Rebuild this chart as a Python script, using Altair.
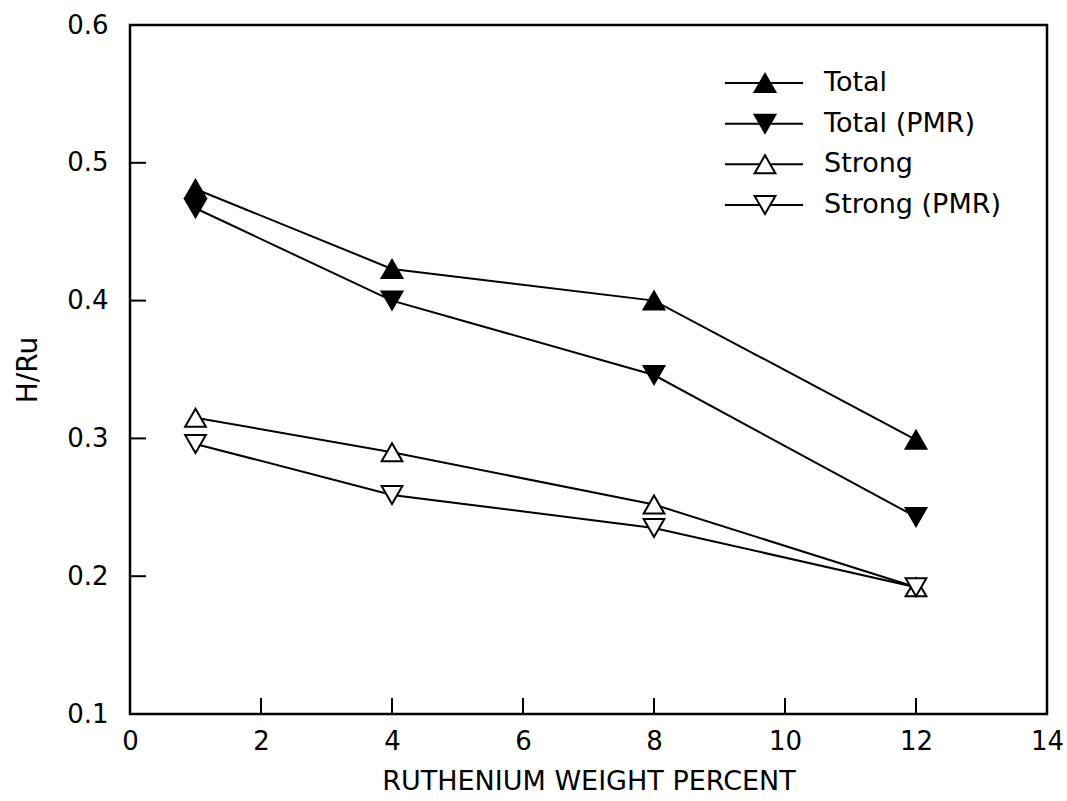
import altair as alt
import pandas as pd

# Ruthenium loading (wt %) and H/Ru uptake for each measurement series
wt_percent = [1, 4, 8, 12]
series_names = ["Total", "Total (PMR)", "Strong", "Strong (PMR)"]
total = [0.481, 0.423, 0.400, 0.299]
total_pmr = [0.467, 0.400, 0.346, 0.243]
strong = [0.315, 0.290, 0.252, 0.192]
strong_pmr = [0.296, 0.259, 0.235, 0.192]

x_tick_values = [0, 2, 4, 6, 8, 10, 12, 14]
y_tick_values = [0.1, 0.2, 0.3, 0.4, 0.5, 0.6]
x_inner_ticks = [2, 4, 6, 8, 10, 12]
y_inner_ticks = [0.2, 0.3, 0.4, 0.5]

W, H = 917, 689
FONT = "DejaVu Sans"
TICK_LEN = 16

rows = []
for name, vals in zip(series_names, [total, total_pmr, strong, strong_pmr]):
    for x, v in zip(wt_percent, vals):
        rows.append({"series": name, "wt": x, "hru": v})
df = pd.DataFrame(rows)

xs = alt.Scale(domain=[0, 14], nice=False, zero=False)
ys = alt.Scale(domain=[0.1, 0.6], nice=False, zero=False)
shape_scale = alt.Scale(domain=series_names,
                        range=["triangle-up", "triangle-down", "triangle-up", "triangle-down"])
fill_scale = alt.Scale(domain=series_names, range=["black", "black", "white", "white"])

x_axis = alt.Axis(values=x_tick_values, format="d", ticks=False, domain=False, grid=False,
                  labelFlush=False, labelFont=FONT, labelFontSize=26, labelColor="black",
                  labelPadding=14, title="RUTHENIUM  WEIGHT  PERCENT", titleFont=FONT,
                  titleFontSize=27, titleFontWeight="normal", titleColor="black",
                  titlePadding=14)
y_axis = alt.Axis(values=y_tick_values, format=".1f", ticks=False, domain=False, grid=False,
                  labelFont=FONT, labelFontSize=26, labelColor="black", labelPadding=22,
                  title="H/Ru", titleFont=FONT, titleFontSize=28, titleFontWeight="normal",
                  titleColor="black", titlePadding=24)

base = alt.Chart(df)

lines = base.mark_line(color="black", strokeWidth=2).encode(
    x=alt.X("wt:Q", scale=xs, axis=x_axis),
    y=alt.Y("hru:Q", scale=ys, axis=y_axis),
    detail="series:N",
)

points = base.mark_point(filled=True, size=430, stroke="black", strokeWidth=2,
                         opacity=1, fillOpacity=1).encode(
    x=alt.X("wt:Q", scale=xs, axis=x_axis),
    y=alt.Y("hru:Q", scale=ys, axis=None),
    shape=alt.Shape("series:N", scale=shape_scale, legend=None),
    fill=alt.Fill("series:N", scale=fill_scale, legend=None),
)

# inward-pointing tick marks
ytick = alt.Chart(pd.DataFrame({"v": y_inner_ticks})).mark_rule(
    color="black", strokeWidth=2).encode(
    y=alt.Y("v:Q", scale=ys, axis=None), x=alt.value(0), x2=alt.value(TICK_LEN))
xtick = alt.Chart(pd.DataFrame({"v": x_inner_ticks})).mark_rule(
    color="black", strokeWidth=2).encode(
    x=alt.X("v:Q", scale=xs, axis=x_axis), y=alt.value(H), y2=alt.value(H - TICK_LEN))

# legend drawn inside the frame: line segment with marker, then label
legend_df = pd.DataFrame({"series": series_names, "row": [0, 1, 2, 3]})
leg_y = alt.Y("row:Q", scale=alt.Scale(domain=[0, 3], range=[58, 180]), axis=None)
leg_base = alt.Chart(legend_df)
leg_line = leg_base.mark_rule(color="black", strokeWidth=2).encode(
    x=alt.value(595), x2=alt.value(673), y=leg_y)
leg_pts = leg_base.mark_point(filled=True, size=430, stroke="black", strokeWidth=2,
                              opacity=1, fillOpacity=1).encode(
    x=alt.value(635), y=leg_y,
    shape=alt.Shape("series:N", scale=shape_scale, legend=None),
    fill=alt.Fill("series:N", scale=fill_scale, legend=None))
leg_txt = leg_base.mark_text(align="left", baseline="middle", font=FONT, fontSize=27,
                             color="black").encode(
    x=alt.value(694), y=leg_y, text="series:N")

chart = alt.layer(
    lines, points, ytick, xtick, leg_line, leg_pts, leg_txt
).resolve_scale(y="independent").properties(
    width=W, height=H,
    padding={"left": 130, "top": 25, "right": 20, "bottom": 87},
    autosize=alt.AutoSizeParams(type="none"),
    background="white",
).configure_view(stroke="black", strokeWidth=2.5)

chart.save("out.html", embed_options={"renderer": "svg", "actions": False})
